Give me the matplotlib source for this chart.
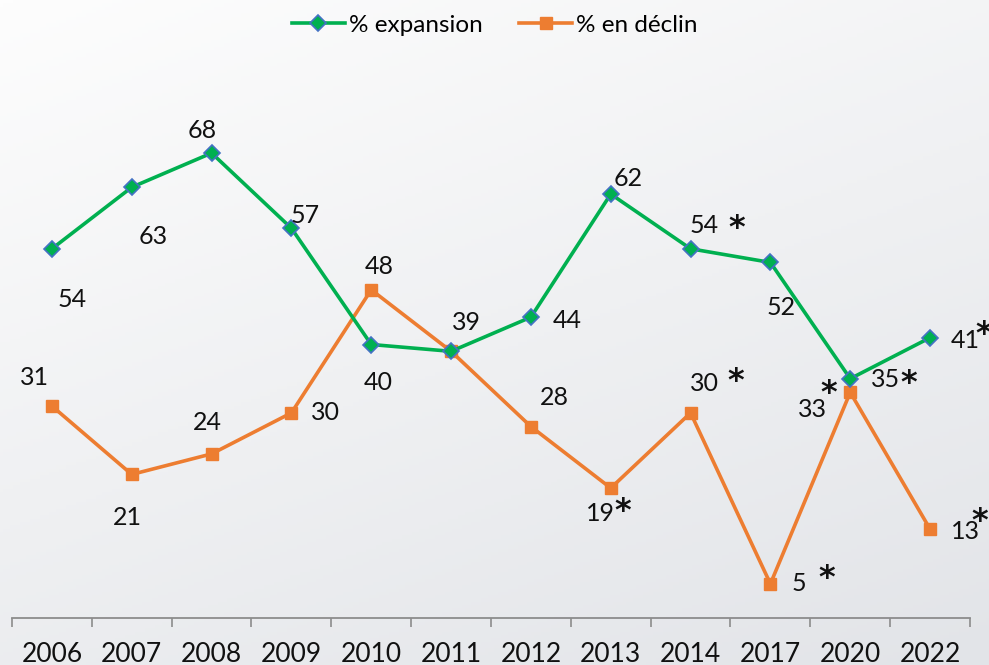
import numpy as np
import matplotlib
matplotlib.use("Agg")
import matplotlib.pyplot as plt
from matplotlib.ticker import FixedLocator

# data
years = ["2006", "2007", "2008", "2009", "2010", "2011", "2012", "2013", "2014", "2017", "2020", "2022"]
expansion = [54, 63, 68, 57, 40, 39, 44, 62, 54, 52, 35, 41]
declin = [31, 21, 24, 30, 48, 39, 28, 19, 30, 5, 33, 13]
# which labels carry the asterisk
exp_star = [False, False, False, False, False, False, False, False, True, False, True, True]
dec_star = [False, False, False, False, False, False, False, True, True, True, True, True]

GREEN = "#00B050"
EDGE = "#4472C4"
ORANGE = "#ED7D31"
FONT = "Lato"

plt.rcParams["font.family"] = [FONT, "DejaVu Sans"]

fig = plt.figure(figsize=(9.89, 6.65), dpi=100)

# soft grey background gradient
bg = fig.add_axes([0, 0, 1, 1], zorder=-5)
gx, gy = np.meshgrid(np.linspace(0, 1, 300), np.linspace(0, 1, 200))
shade = 0.35 * gx + 0.65 * gy
bg.imshow(shade, cmap=matplotlib.colors.LinearSegmentedColormap.from_list(
    "bg", ["#fdfdfd", "#e2e4e8"]), aspect="auto", extent=[0, 1, 0, 1], origin="upper")
bg.axis("off")

W, H = 989, 665
ax = fig.add_axes([12 / W, (H - 618) / H, 958 / W, 547 / H])
ax.patch.set_alpha(0)

x = np.arange(len(years))
ax.plot(x, expansion, color=GREEN, lw=2.6, marker="D", ms=8.5,
        mfc=GREEN, mec=EDGE, mew=1.2, label="% expansion", zorder=3)
ax.plot(x, declin, color=ORANGE, lw=2.6, marker="s", ms=8,
        mfc=ORANGE, mec=ORANGE, label="% en déclin", zorder=2)

ax.set_xlim(-0.5, len(years) - 0.5)
ax.set_ylim(0, 80)
for s in ["left", "right", "top"]:
    ax.spines[s].set_visible(False)
ax.spines["bottom"].set_color("#8c8c8c")
ax.spines["bottom"].set_linewidth(1.3)
ax.set_yticks([])
ax.set_xticks(x)
ax.set_xticklabels(years, fontsize=19, color="#111111")
ax.xaxis.set_minor_locator(FixedLocator(np.arange(-0.5, len(years), 1.0)))
ax.tick_params(axis="x", which="major", length=0, pad=17)
ax.tick_params(axis="x", which="minor", length=6.5, width=1.2, color="#8c8c8c")

# label offsets in pixels (number), relative to the marker
exp_off = [(20, -51), (21, -49), (-9, 23), (14, 13), (7, -38), (15, 29),
           (36, -3), (17, 16), (14, 23), (11, -45), (35, -1), (35, -3)]
dec_off = [(-17, 29), (-4, -43), (-4, 31), (34, 0), (8, 23), None,
           (23, 29), (-10, -25), (14, 29), (28, 0), (-38, -17), (35, -2)]
# asterisk offsets in pixels relative to the marker
exp_star_off = [None] * 8 + [(46, 29), None, (58, 4), (54, 12)]
dec_star_off = [None] * 7 + [(12, -14), (45, 40), (56, 14), (-22, 8), (50, 17)]


def put_labels(vals, offs, stars, star_offs):
    for i, v in enumerate(vals):
        if offs[i] is None:
            continue
        ax.annotate(str(v), (x[i], v), xytext=offs[i], textcoords="offset pixels",
                    ha="center", va="center", fontsize=18, color="#111111")
        if stars[i]:
            sx, sy = star_offs[i]
            ax.annotate("*", (x[i], v), xytext=(sx, sy - 9), textcoords="offset pixels",
                        ha="center", va="center", fontsize=23, fontweight="bold",
                        family="DejaVu Sans", color="#111111", annotation_clip=False)


put_labels(expansion, exp_off, exp_star, exp_star_off)
put_labels(declin, dec_off, dec_star, dec_star_off)

fig.legend(loc="upper center", bbox_to_anchor=(0.5, 1.0), ncol=2, frameon=False,
           fontsize=17.5, handlelength=2.2, handletextpad=0.15, columnspacing=1.5,
           borderaxespad=0.2)

fig.savefig("out.png", dpi=100)
